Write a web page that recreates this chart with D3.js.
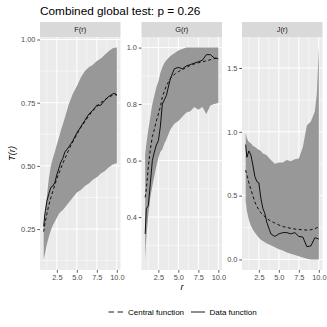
<!DOCTYPE html>
<html><head><meta charset="utf-8">
<script src="https://cdn.jsdelivr.net/npm/d3@7"></script>
<style>
body{margin:0;background:#fff}
svg{display:block}
text{font-family:"Liberation Sans",Arial,Helvetica,sans-serif}
</style>
</head><body>
<svg id="c" width="327" height="327"></svg>
<script>
// ---- data ----
const r = [0.85,1.0,1.25,1.5,1.75,2.0,2.25,2.5,2.75,3.0,3.25,3.5,4.0,4.5,5.0,5.5,6.0,6.5,7.0,7.5,8.0,8.5,9.0,9.5,9.75,10.0];

const fLo      = [0.13,0.15,0.19,0.22,0.245,0.265,0.28,0.295,0.31,0.32,0.325,0.335,0.355,0.375,0.395,0.405,0.42,0.43,0.445,0.455,0.47,0.48,0.495,0.505,0.508,0.51];
const fHi      = [0.27,0.31,0.38,0.45,0.50,0.53,0.555,0.585,0.61,0.64,0.665,0.69,0.745,0.785,0.815,0.85,0.875,0.89,0.90,0.915,0.925,0.94,0.955,0.965,0.967,0.968];
const fCentral = [0.24,0.27,0.31,0.345,0.375,0.40,0.425,0.45,0.47,0.49,0.51,0.528,0.565,0.595,0.625,0.652,0.675,0.698,0.718,0.735,0.75,0.762,0.772,0.78,0.782,0.78];
const fData    = [0.26,0.31,0.36,0.39,0.415,0.42,0.435,0.465,0.49,0.515,0.53,0.555,0.575,0.60,0.63,0.655,0.68,0.705,0.72,0.74,0.74,0.76,0.775,0.785,0.787,0.78];

const gLo      = [0.25,0.33,0.41,0.47,0.51,0.545,0.58,0.61,0.63,0.64,0.66,0.675,0.71,0.73,0.74,0.755,0.77,0.775,0.79,0.78,0.79,0.765,0.795,0.80,0.802,0.805];
const gHi      = [0.62,0.66,0.71,0.755,0.80,0.83,0.86,0.88,0.91,0.93,0.945,0.955,0.97,0.98,0.99,0.995,1.0,1.0,1.0,1.0,1.0,1.0,1.0,1.0,1.0,1.0];
const gCentral = [0.47,0.50,0.58,0.64,0.685,0.71,0.74,0.765,0.79,0.825,0.845,0.865,0.89,0.905,0.915,0.922,0.93,0.937,0.942,0.946,0.95,0.953,0.957,0.961,0.963,0.965];
const gData    = [0.34,0.43,0.44,0.52,0.60,0.63,0.655,0.67,0.72,0.80,0.815,0.83,0.89,0.925,0.93,0.925,0.935,0.94,0.945,0.95,0.955,0.975,0.975,0.963,0.962,0.96];

const jLo      = [0.46,0.38,0.31,0.265,0.235,0.21,0.19,0.17,0.155,0.145,0.135,0.125,0.11,0.095,0.08,0.07,0.055,0.045,0.035,0.025,0.015,0.005,0,0,0,0];
const jHi      = [0.99,0.95,0.92,0.91,0.89,0.88,0.87,0.86,0.85,0.83,0.825,0.815,0.78,0.75,0.76,0.76,0.78,0.77,0.785,0.79,0.88,1.05,1.08,1.16,1.30,1.66];
const jCentral = [0.70,0.66,0.60,0.55,0.50,0.45,0.415,0.39,0.365,0.35,0.335,0.32,0.30,0.285,0.27,0.258,0.25,0.244,0.238,0.235,0.232,0.23,0.232,0.24,0.248,0.255];
const jData    = [0.90,0.80,0.85,0.82,0.74,0.65,0.61,0.60,0.48,0.40,0.36,0.29,0.20,0.18,0.20,0.21,0.21,0.20,0.21,0.18,0.175,0.10,0.105,0.17,0.165,0.16];

const panelNames = ["F(r)","G(r)","J(r)"];
const yTicksF = [0.25,0.50,0.75,1.00];
const yTicksG = [0.4,0.6,0.8,1.0];
const yTicksJ = [0.0,0.5,1.0,1.5];
const xTicks  = [2.5,5.0,7.5,10.0];
const titleText = "Combined global test: p = 0.26";
const legendLabels = ["Central function","Data function"];

// ---- layout ----
const panels = [
  {name:panelNames[0], lo:fLo, hi:fHi, central:fCentral, data:fData, ticks:yTicksF, fmt:".2f"},
  {name:panelNames[1], lo:gLo, hi:gHi, central:gCentral, data:gData, ticks:yTicksG, fmt:".1f"},
  {name:panelNames[2], lo:jLo, hi:jHi, central:jCentral, data:jData, ticks:yTicksJ, fmt:".1f"}
];
const svg = d3.select("#c");
const pTop = 37, pBottom = 270, stripTop = 22;
const panelLeft = [40, 141.5, 242], panelW = 80.5;
const expand = ([a,b]) => { const d=(b-a)*0.05; return [a-d,b+d]; };

function minorBreaks(majors, domain){
  const step = majors[1]-majors[0];
  const out=[];
  const ext=[majors[0]-step].concat(majors,[majors[majors.length-1]+step]);
  for(let k=0;k<ext.length-1;k++){
    const m=(ext[k]+ext[k+1])/2;
    if(m>=domain[0]&&m<=domain[1]) out.push(m);
  }
  return out;
}

panels.forEach((p,i)=>{
  const x0 = panelLeft[i];
  const xs = d3.scaleLinear().domain(expand(d3.extent(r))).range([x0, x0+panelW]);
  const ys = d3.scaleLinear().domain(expand(d3.extent(p.lo.concat(p.hi,p.central,p.data)))).range([pBottom, pTop]);
  const g = svg.append("g");
  g.append("rect").attr("x",x0).attr("y",pTop).attr("width",panelW).attr("height",pBottom-pTop).attr("fill","#EBEBEB");
  minorBreaks(p.ticks, ys.domain()).forEach(v=>{
    g.append("line").attr("x1",x0).attr("x2",x0+panelW).attr("y1",ys(v)).attr("y2",ys(v)).attr("stroke","#fff").attr("stroke-width",0.5);
  });
  minorBreaks(xTicks, xs.domain()).forEach(v=>{
    g.append("line").attr("y1",pTop).attr("y2",pBottom).attr("x1",xs(v)).attr("x2",xs(v)).attr("stroke","#fff").attr("stroke-width",0.5);
  });
  p.ticks.forEach(v=>{
    g.append("line").attr("x1",x0).attr("x2",x0+panelW).attr("y1",ys(v)).attr("y2",ys(v)).attr("stroke","#fff").attr("stroke-width",1);
  });
  xTicks.forEach(v=>{
    g.append("line").attr("y1",pTop).attr("y2",pBottom).attr("x1",xs(v)).attr("x2",xs(v)).attr("stroke","#fff").attr("stroke-width",1);
  });
  const area = d3.area().x((d,k)=>xs(r[k])).y0((d,k)=>ys(p.lo[k])).y1((d,k)=>ys(p.hi[k]));
  g.append("path").attr("d",area(r)).attr("fill","#989898");
  const line = vals => d3.line().x((d,k)=>xs(r[k])).y((d,k)=>ys(vals[k]))(r);
  g.append("path").attr("d",line(p.central)).attr("fill","none").attr("stroke","#000").attr("stroke-width",0.9).attr("stroke-dasharray","3,2.5");
  g.append("path").attr("d",line(p.data)).attr("fill","none").attr("stroke","#000").attr("stroke-width",0.9);
  g.append("rect").attr("x",x0).attr("y",stripTop).attr("width",panelW).attr("height",pTop-stripTop).attr("fill","#D9D9D9");
  g.append("text").attr("x",x0+panelW/2).attr("y",(stripTop+pTop)/2+2.6).attr("text-anchor","middle")
    .attr("font-size",7.4).attr("fill","#1A1A1A").text(p.name);
  const ya = g.append("g").attr("transform",`translate(${x0},0)`)
    .call(d3.axisLeft(ys).tickValues(p.ticks).tickFormat(d3.format(p.fmt)).tickSize(2.75).tickPadding(1.8));
  const xa = g.append("g").attr("transform",`translate(0,${pBottom})`)
    .call(d3.axisBottom(xs).tickValues(xTicks).tickFormat(d3.format(".1f")).tickSize(2.75).tickPadding(1.8));
  [ya,xa].forEach(a=>{
    a.select(".domain").remove();
    a.selectAll(".tick line").attr("stroke","#333333").attr("stroke-width",0.8);
    a.selectAll(".tick text").attr("fill","#4D4D4D").attr("font-size",7.4)
      .style("font-family",'"Liberation Sans",Arial,sans-serif');
  });
});

svg.append("text").attr("x",40).attr("y",15).attr("font-size",11.8).attr("fill","#000").text(titleText);
svg.append("text").attr("transform",`translate(15,${(pTop+pBottom)/2}) rotate(-90)`).attr("text-anchor","middle")
  .attr("font-size",9.3).attr("font-style","italic").attr("fill","#000").text("T(r)");
svg.append("text").attr("x",182).attr("y",290).attr("text-anchor","middle")
  .attr("font-size",9.3).attr("font-style","italic").attr("fill","#000").text("r");

const ly = 312;
svg.append("line").attr("x1",108.5).attr("x2",123).attr("y1",ly).attr("y2",ly).attr("stroke","#000").attr("stroke-width",0.9).attr("stroke-dasharray","5.5,3.5");
svg.append("text").attr("x",128).attr("y",ly+2.8).attr("font-size",8).attr("fill","#000").text(legendLabels[0]);
svg.append("line").attr("x1",191).attr("x2",205).attr("y1",ly).attr("y2",ly).attr("stroke","#000").attr("stroke-width",0.9);
svg.append("text").attr("x",209.5).attr("y",ly+2.8).attr("font-size",8).attr("fill","#000").text(legendLabels[1]);
</script>
</body></html>
